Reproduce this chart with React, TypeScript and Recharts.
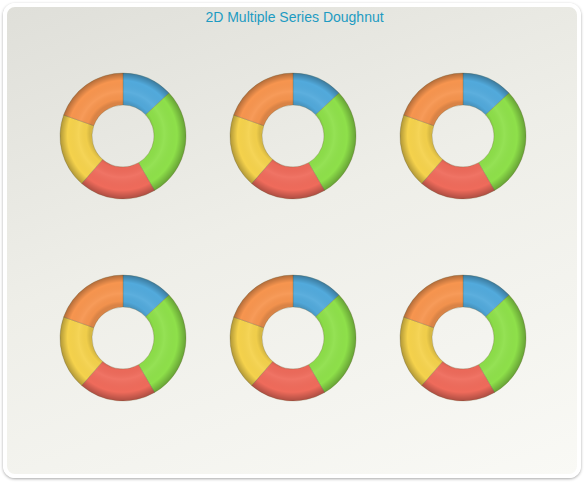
import React from "react";
import { PieChart, Pie, Cell } from "recharts";

const title = "2D Multiple Series Doughnut";
const categories = ["A", "B", "C", "D", "E"];
const seriesNames = ["Series 1", "Series 2", "Series 3", "Series 4", "Series 5", "Series 6"];
const series1 = [47, 103, 71, 68.5, 70.5];
const series2 = [47, 103, 71, 68.5, 70.5];
const series3 = [47, 103, 71, 68.5, 70.5];
const series4 = [47, 103, 71, 68.5, 70.5];
const series5 = [47, 103, 71, 68.5, 70.5];
const series6 = [47, 103, 71, 68.5, 70.5];
const colors = ["#52aadc", "#8ee04a", "#ef6b5b", "#f5d24c", "#f7954f"];

const allSeries = [series1, series2, series3, series4, series5, series6];

const SIZE = 160;
const OUTER = 63;
const INNER = 31;

function Doughnut({ values, id }: { values: number[]; id: number }) {
  const data = categories.map((c, i) => ({ name: c, value: values[i] }));
  const c = SIZE / 2;
  return (
    <PieChart width={SIZE} height={SIZE} margin={{ top: 0, right: 0, bottom: 0, left: 0 }}>
      <defs>
        <radialGradient id={`bevel${id}`} gradientUnits="userSpaceOnUse" cx={c} cy={c} r={OUTER} fx={c - 5} fy={c - 5}>
          <stop offset="0.49" stopColor="#000" stopOpacity={0.12} />
          <stop offset="0.55" stopColor="#000" stopOpacity={0.02} />
          <stop offset="0.68" stopColor="#fff" stopOpacity={0.06} />
          <stop offset="0.87" stopColor="#000" stopOpacity={0} />
          <stop offset="1" stopColor="#000" stopOpacity={0.28} />
        </radialGradient>
      </defs>
      <Pie
        data={data}
        dataKey="value"
        cx={c}
        cy={c}
        innerRadius={INNER}
        outerRadius={OUTER}
        startAngle={90}
        endAngle={-270}
        stroke="rgba(120,110,70,0.45)"
        strokeWidth={0.7}
        isAnimationActive={false}
      >
        {data.map((d, i) => (
          <Cell key={d.name} fill={colors[i]} />
        ))}
      </Pie>
      <Pie
        data={[{ name: "shade", value: 1 }]}
        dataKey="value"
        cx={c}
        cy={c}
        innerRadius={INNER}
        outerRadius={OUTER}
        startAngle={90}
        endAngle={-270}
        stroke="none"
        fill={`url(#bevel${id})`}
        isAnimationActive={false}
      />
    </PieChart>
  );
}

export default function App() {
  const centersX = [123, 293, 463];
  const centersY = [136, 338];
  return (
    <div style={{ position: "absolute", left: 0, top: 0, width: 584, height: 486, background: "#fff" }}>
      <div
        style={{
          position: "absolute",
          left: 3,
          top: 3,
          width: 570,
          height: 467,
          border: "4px solid #fff",
          borderRadius: 12,
          boxShadow: "0 1px 3px rgba(0,0,0,0.35)",
          background: "linear-gradient(160deg, #dfdfd9 0%, #eeeee8 45%, #f9f9f5 100%)",
        }}
      />
      <div
        style={{
          position: "absolute",
          left: 0,
          top: 9,
          width: 589,
          textAlign: "center",
          fontFamily: "'Liberation Sans', Arial, sans-serif",
          fontSize: 14,
          color: "#1d9bc2",
        }}
      >
        {title}
      </div>
      {allSeries.map((s, i) => (
        <div
          key={seriesNames[i]}
          style={{
            position: "absolute",
            left: centersX[i % 3] - SIZE / 2,
            top: centersY[Math.floor(i / 3)] - SIZE / 2,
          }}
        >
          <Doughnut values={s} id={i} />
        </div>
      ))}
    </div>
  );
}
